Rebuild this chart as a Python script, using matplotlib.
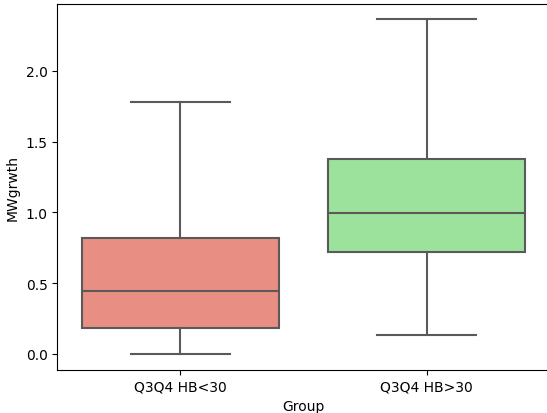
import matplotlib
matplotlib.use('Agg')
import matplotlib.pyplot as plt
import colorsys
from matplotlib.colors import to_rgb

groups = ['Q3Q4 HB<30', 'Q3Q4 HB>30']
whislo = [0.0, 0.135]
q1 = [0.184, 0.716]
med = [0.44, 0.993]
q3 = [0.816, 1.376]
whishi = [1.78, 2.369]
colors = ['salmon', 'lightgreen']


def desat(c, s=0.75):
    h, l, sat = colorsys.rgb_to_hls(*to_rgb(c))
    return colorsys.hls_to_rgb(h, l, sat * s)


stats = [
    dict(label=g, whislo=lo, q1=a, med=m, q3=b, whishi=hi, fliers=[])
    for g, lo, a, m, b, hi in zip(groups, whislo, q1, med, q3, whishi)
]

fig = plt.figure(figsize=(5.47, 4.14), dpi=100)
ax = fig.add_axes([0.1048, 0.1046, 0.9, 0.884])
line_c = '#5a5a5a'
bp = ax.bxp(stats, positions=range(len(groups)), widths=0.8, patch_artist=True,
            boxprops=dict(edgecolor=line_c, linewidth=1.5),
            medianprops=dict(color=line_c, linewidth=1.5),
            whiskerprops=dict(color=line_c, linewidth=1.5),
            capprops=dict(color=line_c, linewidth=1.5),
            capwidths=0.4)
for patch, c in zip(bp['boxes'], colors):
    patch.set_facecolor(desat(c))

ax.set_xlim(-0.5, 1.5)
ax.set_ylim(-0.113, 2.475)
ax.set_xticks(range(len(groups)))
ax.set_xticklabels(groups)
ax.set_yticks([0.0, 0.5, 1.0, 1.5, 2.0])
ax.set_xlabel('Group')
ax.set_ylabel('MWgrwth')
fig.savefig('out.png', dpi=100)
